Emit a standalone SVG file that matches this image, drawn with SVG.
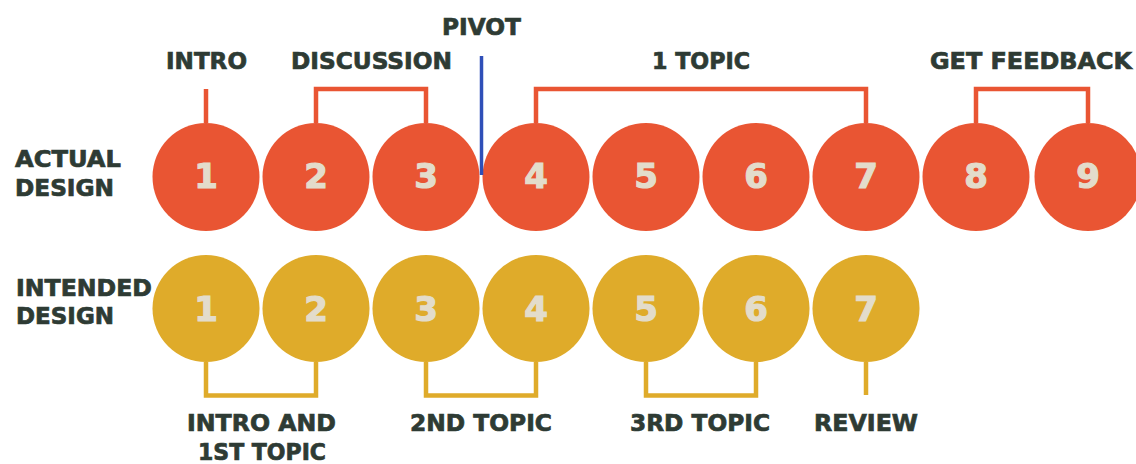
<svg xmlns="http://www.w3.org/2000/svg" width="1136" height="464" viewBox="0 0 1136 464">
  <style>
    .lbl { font-family: "DejaVu Sans", "Liberation Sans", sans-serif; font-weight: bold; font-size: 23px; fill: #2e3b34; stroke: #2e3b34; stroke-width: 0.7; }
    .mid { text-anchor: middle; }
    .num { font-family: "DejaVu Sans", "Liberation Sans", sans-serif; font-weight: bold; font-size: 34px; fill: #e3dccb; stroke: #e3dccb; stroke-width: 1.2; text-anchor: middle; }
    .red { fill: #e95533; }
    .gold { fill: #dfab2a; }
    .redline { fill: none; stroke: #e95533; stroke-width: 4.5; }
    .goldline { fill: none; stroke: #dfab2a; stroke-width: 4.5; }
    .pivot { fill: none; stroke: #2f4fb8; stroke-width: 3.5; }
  </style>
  <rect width="1136" height="464" fill="#ffffff"/>

  <!-- row titles -->
  <g id="row-actual">
    <text class="lbl" x="15" y="167" textLength="106" lengthAdjust="spacingAndGlyphs">ACTUAL</text>
    <text class="lbl" x="15" y="196" textLength="99" lengthAdjust="spacingAndGlyphs">DESIGN</text>
  </g>
  <g id="row-intended">
    <text class="lbl" x="16" y="296" textLength="136" lengthAdjust="spacingAndGlyphs">INTENDED</text>
    <text class="lbl" x="16" y="324" textLength="98" lengthAdjust="spacingAndGlyphs">DESIGN</text>
  </g>

  <!-- bracket labels -->
  <g id="labels-top">
    <text class="lbl mid" x="206.5" y="69" textLength="81" lengthAdjust="spacingAndGlyphs">INTRO</text>
    <text class="lbl mid" x="371.5" y="69" textLength="161" lengthAdjust="spacingAndGlyphs">DISCUSSION</text>
    <text class="lbl mid" x="481.5" y="35" textLength="79" lengthAdjust="spacingAndGlyphs">PIVOT</text>
    <text class="lbl mid" x="701" y="69" textLength="98" lengthAdjust="spacingAndGlyphs">1 TOPIC</text>
    <text class="lbl mid" x="1031" y="69" textLength="202" lengthAdjust="spacingAndGlyphs">GET FEEDBACK</text>
  </g>
  <g id="labels-bottom">
    <text class="lbl mid" x="261.5" y="431" textLength="149" lengthAdjust="spacingAndGlyphs">INTRO AND</text>
    <text class="lbl mid" x="262" y="460" textLength="128" lengthAdjust="spacingAndGlyphs">1ST TOPIC</text>
    <text class="lbl mid" x="481" y="431" textLength="142" lengthAdjust="spacingAndGlyphs">2ND TOPIC</text>
    <text class="lbl mid" x="700" y="431" textLength="140" lengthAdjust="spacingAndGlyphs">3RD TOPIC</text>
    <text class="lbl mid" x="866" y="431" textLength="104" lengthAdjust="spacingAndGlyphs">REVIEW</text>
  </g>

  <!-- actual design sessions -->
  <g id="a1"><ellipse class="red" cx="206" cy="177" rx="53.5" ry="54"/><text class="num" x="206" y="188">1</text></g>
  <g id="a2"><ellipse class="red" cx="316" cy="177" rx="53.5" ry="54"/><text class="num" x="316" y="188">2</text></g>
  <g id="a3"><ellipse class="red" cx="426" cy="177" rx="53.5" ry="54"/><text class="num" x="426" y="188">3</text></g>
  <g id="a4"><ellipse class="red" cx="536" cy="177" rx="53.5" ry="54"/><text class="num" x="536" y="188">4</text></g>
  <g id="a5"><ellipse class="red" cx="646" cy="177" rx="53.5" ry="54"/><text class="num" x="646" y="188">5</text></g>
  <g id="a6"><ellipse class="red" cx="756" cy="177" rx="53.5" ry="54"/><text class="num" x="756" y="188">6</text></g>
  <g id="a7"><ellipse class="red" cx="866" cy="177" rx="53.5" ry="54"/><text class="num" x="866" y="188">7</text></g>
  <g id="a8"><ellipse class="red" cx="976" cy="177" rx="53.5" ry="54"/><text class="num" x="976" y="188">8</text></g>
  <g id="a9"><ellipse class="red" cx="1088" cy="177" rx="53.5" ry="54"/><text class="num" x="1088" y="188">9</text></g>

  <!-- intended design sessions -->
  <g id="b1"><ellipse class="gold" cx="206" cy="308.5" rx="53.5" ry="53.5"/><text class="num" x="206" y="321">1</text></g>
  <g id="b2"><ellipse class="gold" cx="316" cy="308.5" rx="53.5" ry="53.5"/><text class="num" x="316" y="321">2</text></g>
  <g id="b3"><ellipse class="gold" cx="426" cy="308.5" rx="53.5" ry="53.5"/><text class="num" x="426" y="321">3</text></g>
  <g id="b4"><ellipse class="gold" cx="536" cy="308.5" rx="53.5" ry="53.5"/><text class="num" x="536" y="321">4</text></g>
  <g id="b5"><ellipse class="gold" cx="646" cy="308.5" rx="53.5" ry="53.5"/><text class="num" x="646" y="321">5</text></g>
  <g id="b6"><ellipse class="gold" cx="756" cy="308.5" rx="53.5" ry="53.5"/><text class="num" x="756" y="321">6</text></g>
  <g id="b7"><ellipse class="gold" cx="866" cy="308.5" rx="53.5" ry="53.5"/><text class="num" x="866" y="321">7</text></g>

  <!-- connectors: brackets, ticks and the pivot marker (drawn last, over the circles) -->
  <g id="connectors">
    <path class="redline" d="M206 123 V89"/>
    <path class="redline" d="M316 123 V89 H426 V123"/>
    <path class="redline" d="M536 123 V89 H866 V123"/>
    <path class="redline" d="M976 123 V89 H1088 V123"/>
    <path class="pivot" d="M481.5 56 V175"/>
    <path class="goldline" d="M206 362 V395.5 H316 V362"/>
    <path class="goldline" d="M426 362 V395.5 H536 V362"/>
    <path class="goldline" d="M646 362 V395.5 H756 V362"/>
    <path class="goldline" d="M866 362 V395"/>
  </g>
</svg>
